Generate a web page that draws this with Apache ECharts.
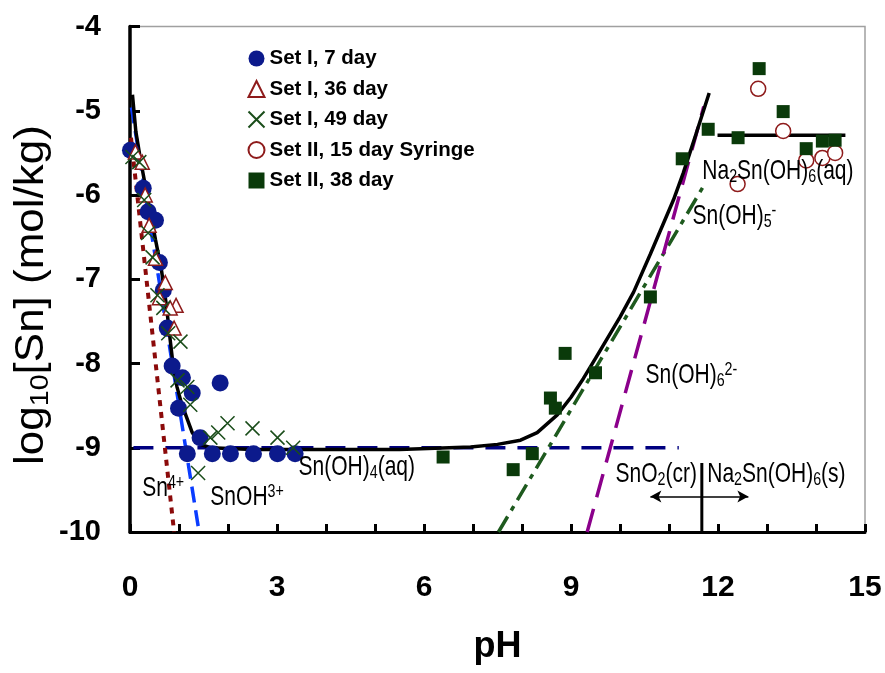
<!DOCTYPE html>
<html><head><meta charset="utf-8">
<script src="https://cdn.jsdelivr.net/npm/echarts@6/dist/echarts.min.js"></script>
<style>html,body{margin:0;padding:0;background:#fff}#c{width:885px;height:673px}</style>
</head><body><div id="c"></div>
<script>
// ---------- data ----------
const xTickLabels = [0, 3, 6, 9, 12, 15];
const yTickLabels = [-10, -9, -8, -7, -6, -5, -4];
const legendNames = ['Set I, 7 day', 'Set I, 36 day', 'Set I, 49 day', 'Set II, 15 day Syringe', 'Set II, 38 day'];

const set1Day7 = [[0.01,-5.47],[0.27,-5.92],[0.37,-6.20],[0.52,-6.30],[0.60,-6.80],[0.68,-7.13],[0.76,-7.58],[0.86,-8.03],[1.07,-8.17],[1.27,-8.35],[0.99,-8.53],[1.43,-8.88],[1.17,-9.07],[1.68,-9.07],[2.05,-9.07],[2.52,-9.07],[3.01,-9.07],[3.37,-9.07],[1.84,-8.23]];
const set1Day36 = [[0.11,-5.49],[0.25,-5.61],[0.31,-6.00],[0.39,-6.36],[0.52,-6.75],[0.72,-7.04],[0.60,-7.22],[0.94,-7.31],[0.82,-7.34],[0.90,-7.58]];
const set1Day49 = [[0.05,-5.55],[0.19,-5.61],[0.29,-6.06],[0.37,-6.45],[0.46,-6.74],[0.56,-7.19],[0.68,-7.34],[0.78,-7.64],[1.03,-7.74],[0.97,-8.20],[1.17,-8.28],[1.23,-8.49],[1.64,-8.88],[1.80,-8.82],[1.99,-8.71],[2.50,-8.77],[3.01,-8.88],[3.33,-9.00],[1.39,-9.30]];
const set2Day15Syringe = [[12.82,-4.74],[13.33,-5.24],[12.40,-5.87],[13.80,-5.59],[14.13,-5.56],[14.39,-5.50]];
const set2Day38 = [[12.84,-4.50],[13.33,-5.01],[11.80,-5.22],[12.41,-5.32],[11.27,-5.57],[13.80,-5.45],[14.13,-5.36],[14.39,-5.35],[10.62,-7.21],[9.50,-8.11],[8.88,-7.88],[8.58,-8.41],[8.68,-8.53],[8.21,-9.07],[7.82,-9.26],[6.39,-9.11]];

const totalCurve = [[0.05,-4.81],[0.12,-5.25],[0.22,-5.6],[0.38,-6.1],[0.52,-6.53],[0.64,-6.88],[0.74,-7.3],[0.82,-7.72],[0.88,-8.02],[0.96,-8.28],[1.05,-8.47],[1.15,-8.63],[1.27,-8.82],[1.43,-8.96],[1.65,-9.0],[2.5,-9.02],[4,-9.02],[5.5,-9.02],[6.95,-8.99],[7.5,-8.96],[7.97,-8.91],[8.31,-8.82],[8.72,-8.61],[9.0,-8.4],[9.25,-8.18],[9.5,-7.94],[10.0,-7.45],[10.28,-7.15],[10.62,-6.7],[11.09,-6.06],[11.29,-5.74],[11.55,-5.28],[11.82,-4.79]];
const na2SnOH6aqLine = [[11.99,-5.29],[14.6,-5.29]];
const sn4Line = [[0.02,-5.32],[0.90,-10]];
const snOH3Line = [[0.03,-4.96],[1.41,-10]];
const snOH4Line = [[0.07,-9.0],[11.2,-9.0]];
const snOH5Line = [[7.52,-10],[11.72,-5.88]];
const snOH6Line = [[9.33,-10],[11.71,-4.95]];
const boundaryLine = [[11.67,-10],[11.67,-9.18]];
const arrowLeft = [[11.67,-9.58],[10.62,-9.58]];
const arrowRight = [[11.67,-9.58],[12.62,-9.58]];

const annotationTexts = ['{t|Sn}{p|4+}','{t|SnOH}{p|3+}','{t|Sn(OH)}{b|4}{t|(aq)}','{t|SnO}{b|2}{t|(cr)}','{t|Na}{b|2}{t|Sn(OH)}{b|6}{t|(s)}','{t|Sn(OH)}{b|6}{p|2-}','{t|Sn(OH)}{b|5}{p|-}','{t|Na}{b|2}{t|Sn(OH)}{b|6}{t|(aq)}'];
const annotationAnchors = [[0.25,-9.48],[1.64,-9.59],[3.44,-9.23],[9.91,-9.31],[11.78,-9.31],[10.52,-8.14],[11.48,-6.25],[11.68,-5.72]];

// ---------- chart ----------
const SANS = '"Liberation Sans", Arial, sans-serif';
const chart = echarts.init(document.getElementById('c'), null, {renderer: 'canvas'});

function lineSeries(data, color, width, type, extra) {
  return Object.assign({
    type: 'line', data: data, showSymbol: false, symbol: 'none', silent: true,
    lineStyle: {color: color, width: width, type: type}, z: 2, animation: false
  }, extra || {});
}

const annRich = {
  t: {fontSize: 28, fontFamily: SANS, fill: '#000', lineHeight: 30},
  b: {fontSize: 19, fontFamily: SANS, fill: '#000', lineHeight: 14, verticalAlign: 'bottom'},
  p: {fontSize: 19, fontFamily: SANS, fill: '#000', lineHeight: 14, verticalAlign: 'top'}
};

const yTitle = {
  type: 'text', x: 32, y: 295, rotation: Math.PI / 2, scaleX: 1.1, silent: true,
  style: {
    text: '{a|log}{s|10}{a|[Sn] (mol/kg)}', align: 'center', verticalAlign: 'middle', fill: '#000',
    rich: {
      a: {fontSize: 40, fontFamily: SANS, fill: '#000', lineHeight: 44},
      s: {fontSize: 26, fontFamily: SANS, fill: '#000', lineHeight: 20, verticalAlign: 'bottom'}
    }
  }
};

const option = {
  animation: false,
  backgroundColor: '#fff',
  grid: {left: 130, right: 20, top: 26.5, bottom: 141, show: true, borderColor: '#a0a0a0', borderWidth: 1.5, containLabel: false},
  xAxis: {
    type: 'value', min: 0, max: 15, interval: 1,
    name: 'pH', nameLocation: 'middle', nameGap: 97,
    nameTextStyle: {fontFamily: SANS, fontWeight: 'bold', fontSize: 36, color: '#000'},
    axisLine: {show: true, onZero: false, lineStyle: {color: '#000', width: 3}},
    axisTick: {show: true, inside: true, length: 8, lineStyle: {color: '#000', width: 3}},
    axisLabel: {margin: 41, fontFamily: SANS, fontWeight: 'bold', fontSize: 30, color: '#000',
      formatter: v => xTickLabels.indexOf(v) >= 0 ? String(v) : ''},
    splitLine: {show: false}
  },
  yAxis: {
    type: 'value', min: -10, max: -4, interval: 1,
    axisLine: {show: true, onZero: false, lineStyle: {color: '#000', width: 3.5}},
    axisTick: {show: true, inside: true, length: 10, lineStyle: {color: '#000', width: 3}},
    axisLabel: {margin: 29, fontFamily: SANS, fontWeight: 'bold', fontSize: 29, color: '#000',
      formatter: v => yTickLabels.indexOf(v) >= 0 ? String(v) : ''},
    splitLine: {show: false}
  },
  legend: {
    data: legendNames, orient: 'vertical', left: 242.5, top: 43, itemWidth: 16, itemHeight: 16, itemGap: 9.5,
    textStyle: {fontFamily: SANS, fontWeight: 'bold', fontSize: 20.5, color: '#000'}
  },
  graphic: [yTitle],
  series: [
    lineSeries(snOH4Line, '#000080', 3.5, [20, 12]),
    lineSeries(sn4Line, '#8b0a0a', 4, [6, 6]),
    lineSeries(snOH3Line, '#0a3cff', 3.5, [16, 8]),
    lineSeries(snOH5Line, '#1e5a1e', 3.5, [18, 7, 5, 7]),
    lineSeries(snOH6Line, '#8b008b', 3.5, [24, 12]),
    lineSeries(totalCurve, '#000', 3.5, 'solid', {smooth: false}),
    lineSeries(na2SnOH6aqLine, '#000', 3.5, 'solid'),
    lineSeries(boundaryLine, '#000', 3, 'solid', {
      markLine: {
        silent: true, symbol: ['none', 'arrow'], symbolSize: [9, 11], animation: false,
        lineStyle: {color: '#000', width: 1.5, type: 'solid'}, label: {show: false},
        data: [
          [{coord: arrowLeft[0]}, {coord: arrowLeft[1]}],
          [{coord: arrowRight[0]}, {coord: arrowRight[1]}]
        ]
      }
    }),
    {name: legendNames[0], type: 'scatter', data: set1Day7, symbol: 'circle', symbolSize: 17,
      itemStyle: {color: '#0c1a8c', opacity: 1}, z: 3},
    {name: legendNames[1], type: 'scatter', data: set1Day36, symbol: 'triangle', symbolSize: 14,
      itemStyle: {color: '#fff', borderColor: '#8e1b1b', borderWidth: 1.5, opacity: 1}, z: 4},
    {name: legendNames[2], type: 'scatter', data: set1Day49, symbol: 'path://M0,0L10,10M10,0L0,10', symbolSize: 14,
      itemStyle: {color: 'rgba(0,0,0,0)', borderColor: '#1a4d1a', borderWidth: 1.5, opacity: 1}, z: 5},
    {name: legendNames[3], type: 'scatter', data: set2Day15Syringe, symbol: 'circle', symbolSize: 15,
      itemStyle: {color: '#fff', borderColor: '#8e1b1b', borderWidth: 1.5, opacity: 1}, z: 4},
    {name: legendNames[4], type: 'scatter', data: set2Day38, symbol: 'rect', symbolSize: 13,
      itemStyle: {color: '#0a3a0a', opacity: 1}, z: 5}
  ]
};
chart.setOption(option);

// annotation texts, anchored at data coordinates through the grid's scales
const annGraphics = annotationAnchors.map((p, i) => {
  const px = chart.convertToPixel({gridIndex: 0}, p);
  return {
    type: 'text', x: px[0], y: px[1], scaleX: 0.75, silent: true, z: 10,
    style: {text: annotationTexts[i], rich: annRich, align: 'left', verticalAlign: 'middle', fill: '#000'}
  };
});
chart.setOption({graphic: [yTitle].concat(annGraphics)});
</script>
</body></html>
